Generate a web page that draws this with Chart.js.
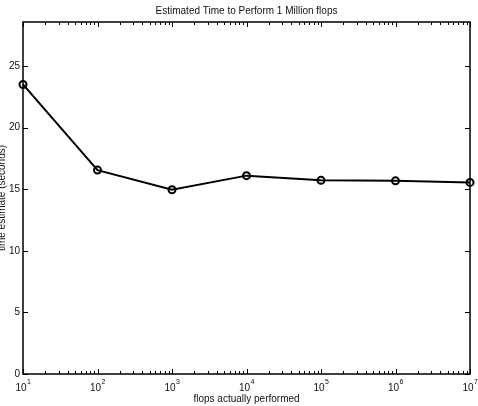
<!DOCTYPE html>
<html>
<head>
<meta charset="utf-8">
<script src="https://cdn.jsdelivr.net/npm/chart.js@4.4.1/dist/chart.umd.min.js"></script>
<style>
  html, body { margin: 0; padding: 0; background: #fff; }
  canvas { display: block; }
</style>
</head>
<body>
<canvas id="grafico" width="478" height="406"></canvas>
<script>
// valores
const flops = [1e1, 1e2, 1e3, 1e4, 1e5, 1e6, 1e7];
const timeEstimate = [23.5, 16.55, 14.95, 16.1, 15.72, 15.68, 15.55];
const yTicks = [0, 5, 10, 15, 20, 25];
const xTickExponents = [1, 2, 3, 4, 5, 6, 7];

const fonte = "'Liberation Sans', Arial, sans-serif";
const corTexto = "#111";

// caixa, marcas internas (estilo matlab), rotulos 10^n e titulo do eixo y
const caixaEMarcas = {
    id: "caixaEMarcas",
    afterDraw(chart) {
        const { ctx, chartArea: { left, right, top, bottom }, scales: { x, y } } = chart;
        ctx.save();
        ctx.strokeStyle = "#000";
        ctx.lineWidth = 1.5;
        ctx.strokeRect(left, top, right - left, bottom - top);

        ctx.lineWidth = 1;
        ctx.beginPath();
        // marcas do eixo y (esquerda e direita)
        yTicks.forEach(v => {
            const py = Math.round(y.getPixelForValue(v)) + 0.5;
            ctx.moveTo(left, py); ctx.lineTo(left + 5, py);
            ctx.moveTo(right, py); ctx.lineTo(right - 5, py);
        });
        // marcas maiores e menores do eixo x (baixo e cima)
        xTickExponents.forEach(e => {
            const px = Math.round(x.getPixelForValue(Math.pow(10, e))) + 0.5;
            ctx.moveTo(px, bottom); ctx.lineTo(px, bottom - 5);
            ctx.moveTo(px, top); ctx.lineTo(px, top + 5);
            if (e < 7) {
                for (let m = 2; m <= 9; m++) {
                    const pm = Math.round(x.getPixelForValue(m * Math.pow(10, e))) + 0.5;
                    ctx.moveTo(pm, bottom); ctx.lineTo(pm, bottom - 3);
                    ctx.moveTo(pm, top); ctx.lineTo(pm, top + 3);
                }
            }
        });
        ctx.stroke();

        // rotulos 10^n
        ctx.fillStyle = corTexto;
        ctx.textBaseline = "alphabetic";
        ctx.textAlign = "left";
        xTickExponents.forEach(e => {
            const px = x.getPixelForValue(Math.pow(10, e));
            ctx.font = "10px " + fonte;
            const wBase = ctx.measureText("10").width;
            ctx.font = "7px " + fonte;
            const wExp = ctx.measureText(String(e)).width;
            const inicio = px - (wBase + wExp) / 2;
            ctx.font = "10px " + fonte;
            ctx.fillText("10", inicio, bottom + 16.5);
            ctx.font = "7px " + fonte;
            ctx.fillText(String(e), inicio + wBase + 0.5, bottom + 10);
        });

        // titulo do eixo y (cortado na borda esquerda, como no original)
        ctx.font = "10px " + fonte;
        ctx.textAlign = "center";
        ctx.translate(4.5, (top + bottom) / 2);
        ctx.rotate(-Math.PI / 2);
        ctx.fillText("time estimate (seconds)", 0, 0);
        ctx.restore();
    }
};

const ctx = document.getElementById("grafico").getContext("2d");

new Chart(ctx, {
    type: "line",
    data: {
        datasets: [{
            data: flops.map((f, i) => ({ x: f, y: timeEstimate[i] })),
            borderColor: "#000",
            borderWidth: 2,
            pointRadius: 3.5,
            pointBorderWidth: 2,
            pointBorderColor: "#000",
            pointBackgroundColor: "rgba(0,0,0,0)",
            tension: 0,
            clip: false,
        }],
    },
    options: {
        responsive: false,
        animation: false,
        devicePixelRatio: 1,
        layout: { padding: { left: 0, right: 8, top: 0, bottom: 0 } },
        plugins: {
            legend: { display: false },
            tooltip: { enabled: false },
            title: {
                display: true,
                fullSize: false, // centraliza sobre a area do grafico
                text: "Estimated Time to Perform 1 Million flops",
                color: corTexto,
                font: { family: fonte, size: 10, weight: "normal" },
                padding: { top: 5, bottom: 5 },
            },
        },
        scales: {
            x: {
                type: "logarithmic",
                min: 10,
                max: 1e7,
                grid: { display: false, drawTicks: false },
                border: { display: false },
                ticks: { display: false },
                title: {
                    display: true,
                    text: "flops actually performed",
                    color: corTexto,
                    font: { family: fonte, size: 10 },
                    padding: { top: 0, bottom: 1 },
                },
                afterFit(scale) { scale.height = 32; },
            },
            y: {
                min: 0,
                max: 28.57,
                grid: { display: false, drawTicks: false },
                border: { display: false },
                ticks: {
                    color: corTexto,
                    font: { family: fonte, size: 10 },
                    padding: 3,
                },
                afterBuildTicks(scale) { scale.ticks = yTicks.map(v => ({ value: v })); },
                afterFit(scale) { scale.width = 23; },
            },
        },
    },
    plugins: [caixaEMarcas],
});
</script>
</body>
</html>
